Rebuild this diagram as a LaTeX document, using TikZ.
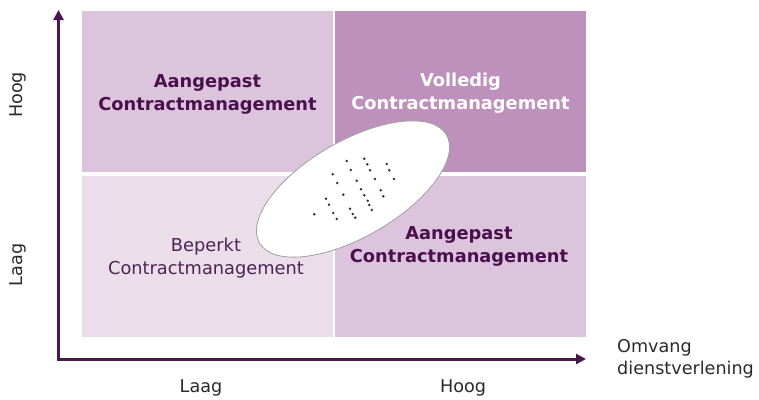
\documentclass[tikz,border=0pt]{standalone}
\usepackage{fontspec}
\setmainfont{DejaVu Sans}
\usetikzlibrary{arrows.meta,shapes.geometric}

\definecolor{quadA}{HTML}{DCC5DC}
\definecolor{quadB}{HTML}{BD91BC}
\definecolor{quadC}{HTML}{EBDEEA}
\definecolor{quadD}{HTML}{DCC5DC}
\definecolor{axiscol}{HTML}{4A1650}
\definecolor{labelcol}{HTML}{4B0F4E}
\definecolor{softcol}{HTML}{4E2354}
\definecolor{axistext}{HTML}{2A2A2A}

\tikzset{
  quad/.style={draw=none, rectangle, minimum width=251pt, minimum height=161.5pt, inner sep=0pt},
  qtext/.style={align=center, font=\fontsize{17.8}{23}\selectfont\bfseries, text=labelcol, inner sep=0pt},
  qsoft/.style={align=center, font=\fontsize{17.8}{22.5}\selectfont, text=softcol, inner sep=0pt},
  axtext/.style={font=\fontsize{17.6}{22.5}\selectfont, text=axistext, inner sep=0pt},
  axisline/.style={draw=axiscol, line width=3pt, line join=miter,
    {Triangle[length=10pt,width=10pt]}-{Triangle[length=10pt,width=10pt]}},
  oval/.style={draw=gray!75, line width=0.8pt, fill=white, ellipse, inner sep=0pt},
  dot/.style={fill=black!80}
}

\begin{document}
\begin{tikzpicture}[x=1pt,y=-1pt]
  \useasboundingbox (0,0) rectangle (759,399);

  % four quadrants
  \node[quad, fill=quadA] (tl) at (207,91.5) {};
  \node[quad, fill=quadB] (tr) at (460.5,91.5) {};
  \node[quad, fill=quadC] (bl) at (207,256.5) {};
  \node[quad, fill=quadD] (br) at (460.5,256.5) {};

  % quadrant labels
  \node[qtext] (tltext) at (207.5,94.5) {Aangepast\\Contractmanagement};
  \node[qtext, text=white] (trtext) at (460.5,93) {Volledig\\Contractmanagement};
  \node[qsoft] (bltext) at (206,258) {Beperkt\\Contractmanagement};
  \node[qtext] (brtext) at (459,246.5) {Aangepast\\Contractmanagement};

  % oval spanning the diagonal
  \node[oval, minimum width=216pt, minimum height=96pt, rotate=30] (blob) at (353,189) {};
  \foreach \px/\py in {346.7/161, 364.3/158.7, 386.7/164, 350.7/170, 367.3/164.3,
      370/170.3, 389.3/170.3, 332.7/174.3, 375/179, 394/179, 337.3/183, 356.7/180.7,
      361/189.3, 380.7/190.3, 343.3/194.7, 364.3/195.3, 383.3/196.3, 326/198.7,
      367.7/200.7, 329/204.7, 369.3/205, 350/208.7, 371.7/210, 314.3/214.3,
      333.3/213, 352.7/214, 336.7/219, 355.3/217.7}
    \fill[dot] (\px,\py) circle (1.4pt);

  % axes
  \coordinate (ytip) at (58.5,10);
  \coordinate (xtip) at (586,359);
  \draw[axisline] (ytip) |- (xtip);

  % axis labels
  \node[axtext, rotate=90] (yhigh) at (18,95) {Hoog};
  \node[axtext, rotate=90] (ylow) at (18,265) {Laag};
  \node[axtext] (xlow) at (201,388) {Laag};
  \node[axtext] (xhigh) at (463,388) {Hoog};
  \node[axtext, align=left, anchor=west] (xname) at (617,359) {Omvang\\dienstverlening};
\end{tikzpicture}
\end{document}
